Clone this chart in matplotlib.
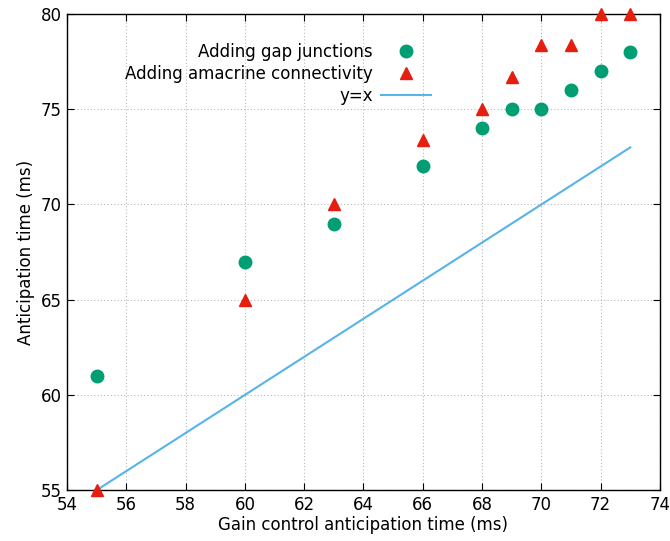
import matplotlib
matplotlib.use("Agg")
import matplotlib.pyplot as plt

gain_x = [55, 60, 63, 66, 68, 69, 70, 71, 72, 73]
gap_y = [61, 67, 69, 72, 74, 75, 75, 76, 77, 78]
amacrine_y = [55, 65, 70, 73.4, 75, 76.7, 78.4, 78.4, 80, 80]
line_x = [55, 73]
line_y = [55, 73]

x_ticks = [54, 56, 58, 60, 62, 64, 66, 68, 70, 72, 74]
y_ticks = [55, 60, 65, 70, 75, 80]

plt.rcParams['font.family'] = ['DejaVu Sans']
fig = plt.figure(figsize=(6.7, 5.41), dpi=100)
ax = fig.add_axes([0.1, 0.094, 0.885, 0.880])

ax.plot(gain_x, gap_y, linestyle='none', marker='o', markersize=9,
        color='#009E73', label='Adding gap junctions', clip_on=False, zorder=3)
ax.plot(gain_x, amacrine_y, linestyle='none', marker='^', markersize=8.5,
        color='#E51E10', label='Adding amacrine connectivity', clip_on=False, zorder=3)
ax.plot(line_x, line_y, color='#56B4E9', linewidth=1.5, label='y=x', zorder=2)

ax.set_xlim(54, 74)
ax.set_ylim(55, 80)
ax.set_xticks(x_ticks)
ax.set_yticks(y_ticks)
ax.tick_params(direction='in', top=True, right=True, length=5, labelsize=12, pad=4)
ax.grid(True, linestyle=(0, (1, 2)), color='#b8b8b8', linewidth=0.8)
for s in ax.spines.values():
    s.set_linewidth(1.0)

ax.set_xlabel('Gain control anticipation time (ms)', fontsize=12, labelpad=2)
ax.set_ylabel('Anticipation time (ms)', fontsize=12, labelpad=4)

leg = ax.legend(loc='upper right', bbox_to_anchor=(0.614, 0.94), frameon=False,
                markerfirst=False, fontsize=12, handlelength=3.0,
                labelspacing=0.25, handletextpad=0.5, borderpad=0, borderaxespad=0)
for t in leg.get_texts():
    t.set_ha('right')
leg._legend_box.align = 'right'

fig.savefig('out.png', dpi=100)
